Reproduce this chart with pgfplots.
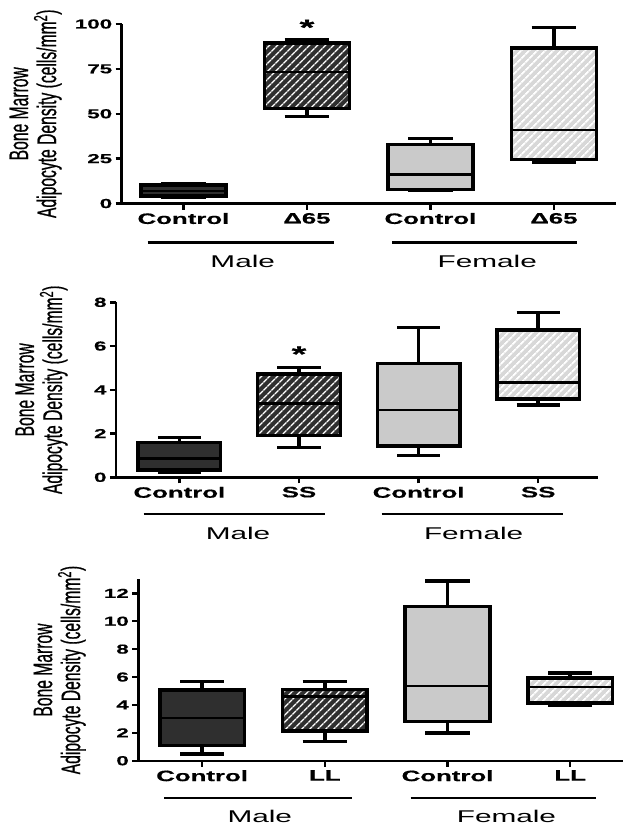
\documentclass[border=0pt]{standalone}
\usepackage{fontspec}
\setmainfont{Liberation Sans}
\newfontfamily\widefont[FakeStretch=1.72,FakeBold=0.6]{Liberation Sans}
\newfontfamily\groupfam[FakeStretch=1.75]{Liberation Sans}
\newfontfamily\narrowfam[FakeStretch=0.58,FakeBold=0.5]{Liberation Sans}
\usepackage{pgfplots}
\pgfplotsset{compat=1.18}
\usepgfplotslibrary{statistics}
\usetikzlibrary{patterns.meta}
\definecolor{mdark}{HTML}{2F2F2F}
\definecolor{flight}{HTML}{CACACA}
\definecolor{fhatch}{HTML}{D8D8D8}
\newcommand{\groupfont}{\groupfam\fontsize{17bp}{17bp}\selectfont}
\newcommand{\starfont}{\widefont\bfseries\fontsize{22bp}{22bp}\selectfont}
\pgfplotsset{
  panel/.style={
    scale only axis, axis lines=left, axis line style={-, line width=2.4bp},
    tick align=outside, major tick length=6bp, tick style={line width=2.4bp, black},
    xmin=-0.5, xmax=3.5, ymin=0, xtick={0,1,2,3},
    clip=false,
    /pgf/number format/assume math mode=true,
    yticklabel style={font=\widefont\bfseries\fontsize{13bp}{13bp}\selectfont},
    xticklabel style={font=\widefont\bfseries\fontsize{15bp}{15bp}\selectfont},
    ylabel={Bone Marrow\\Adipocyte Density (cells/mm\textsuperscript{2})},
    ylabel style={font=\narrowfam\fontsize{27bp}{28bp}\selectfont, align=center, anchor=south, inner sep=0pt},
    boxplot/draw direction=y,
    boxplot/box extend=0.69, boxplot/whisker extend=0.36,
    boxplot/every median/.style={line width=2.6bp},
  },
  bx/.style={draw=black, line width=3.5bp, solid},
  mc/.style={bx, fill=mdark},
  mt/.style={bx, boxplot/every box/.style={preaction={fill=mdark}, pattern={Lines[angle=45,distance=6bp,line width=1.8bp]}, pattern color=white}},
  fc/.style={bx, fill=flight},
  ft/.style={bx, boxplot/every box/.style={preaction={fill=fhatch}, pattern={Lines[angle=45,distance=6bp,line width=2bp]}, pattern color=white}},
}
\begin{document}
\begin{tikzpicture}
% ---------------- Panel 1 ----------------
\begin{axis}[panel,
  at={(121.7bp,-203.5bp)}, anchor=south west,
  width=494bp, height=179.5bp,
  ymax=100, ytick={0,25,50,75,100},
  xticklabels={Control,Δ65,Control,Δ65},
  ylabel style={at={(axis description cs:-0.121,0.5)}},
]
\addplot[mc, boxplot prepared={draw position=0, lower whisker=3.5, lower quartile=4.3, median=7.0, upper quartile=10.2, upper whisker=10.8}] coordinates {};
\addplot[mt, boxplot prepared={draw position=1, lower whisker=48.6, lower quartile=52.8, median=73.3, upper quartile=89.3, upper whisker=91.5}] coordinates {};
\addplot[fc, boxplot prepared={draw position=2, lower whisker=7.5, lower quartile=7.9, median=16.3, upper quartile=32.9, upper whisker=36.1}] coordinates {};
\addplot[ft, boxplot prepared={draw position=3, lower whisker=23.1, lower quartile=24.6, median=41.0, upper quartile=86.6, upper whisker=98.0}] coordinates {};
\node[font=\starfont, anchor=base, inner sep=0pt] at (axis cs:1,93.9) {*};
\draw[line width=2.2bp] ([yshift=-39bp]axis cs:-0.29,0) -- ([yshift=-39bp]axis cs:1.22,0);
\draw[line width=2.2bp] ([yshift=-39bp]axis cs:1.69,0) -- ([yshift=-39bp]axis cs:3.19,0);
\node[font=\groupfont] at ([yshift=-57.5bp]axis cs:0.48,0) {Male};
\node[font=\groupfont] at ([yshift=-57.5bp]axis cs:2.46,0) {Female};
\end{axis}
% ---------------- Panel 2 ----------------
\begin{axis}[panel,
  at={(116bp,-477.3bp)}, anchor=south west,
  width=482bp, height=175bp,
  xmin=-0.53, xmax=3.5,
  ymax=8, ytick={0,2,4,6,8},
  xticklabels={Control,SS,Control,SS},
  ylabel style={at={(axis description cs:-0.100,0.5)}},
]
\addplot[mc, boxplot prepared={draw position=0, lower whisker=0.23, lower quartile=0.34, median=0.87, upper quartile=1.59, upper whisker=1.81}] coordinates {};
\addplot[mt, boxplot prepared={draw position=1, lower whisker=1.37, lower quartile=1.9, median=3.38, upper quartile=4.73, upper whisker=5.03}] coordinates {};
\addplot[fc, boxplot prepared={draw position=2, lower whisker=0.99, lower quartile=1.43, median=3.08, upper quartile=5.21, upper whisker=6.86}] coordinates {};
\addplot[ft, boxplot prepared={draw position=3, lower whisker=3.31, lower quartile=3.58, median=4.33, upper quartile=6.74, upper whisker=7.53}] coordinates {};
\node[font=\starfont, anchor=base, inner sep=0pt] at (axis cs:1,5.29) {*};
\draw[line width=2.2bp] ([yshift=-37bp]axis cs:-0.30,0) -- ([yshift=-37bp]axis cs:1.22,0);
\draw[line width=2.2bp] ([yshift=-37bp]axis cs:1.69,0) -- ([yshift=-37bp]axis cs:3.21,0);
\node[font=\groupfont] at ([yshift=-56bp]axis cs:0.49,0) {Male};
\node[font=\groupfont] at ([yshift=-56bp]axis cs:2.46,0) {Female};
\end{axis}
% ---------------- Panel 3 ----------------
\begin{axis}[panel,
  at={(138.3bp,-760.7bp)}, anchor=south west,
  width=484.7bp, height=181.3bp,
  xmin=-0.52, xmax=3.43,
  ymax=13, ytick={0,2,4,6,8,10,12},
  xticklabels={Control,LL,Control,LL},
  ylabel style={at={(axis description cs:-0.108,0.5)}},
]
\addplot[mc, boxplot prepared={draw position=0, lower whisker=0.48, lower quartile=1.08, median=3.06, upper quartile=5.07, upper whisker=5.67}] coordinates {};
\addplot[mt, boxplot prepared={draw position=1, lower whisker=1.36, lower quartile=2.13, median=4.6, upper quartile=5.12, upper whisker=5.67}] coordinates {};
\addplot[fc, boxplot prepared={draw position=2, lower whisker=2.0, lower quartile=2.8, median=5.36, upper quartile=11.04, upper whisker=12.9}] coordinates {};
\addplot[ft, boxplot prepared={draw position=3, lower whisker=4.0, lower quartile=4.14, median=5.28, upper quartile=5.93, upper whisker=6.29}] coordinates {};
\draw[line width=2.2bp] ([yshift=-37bp]axis cs:-0.31,0) -- ([yshift=-37bp]axis cs:1.22,0);
\draw[line width=2.2bp] ([yshift=-37bp]axis cs:1.70,0) -- ([yshift=-37bp]axis cs:3.21,0);
\node[font=\groupfont] at ([yshift=-56bp]axis cs:0.47,0) {Male};
\node[font=\groupfont] at ([yshift=-56bp]axis cs:2.48,0) {Female};
\end{axis}
\pgfresetboundingbox
\path[use as bounding box] (0,0) rectangle (623bp,-831bp);
\end{tikzpicture}
\end{document}
